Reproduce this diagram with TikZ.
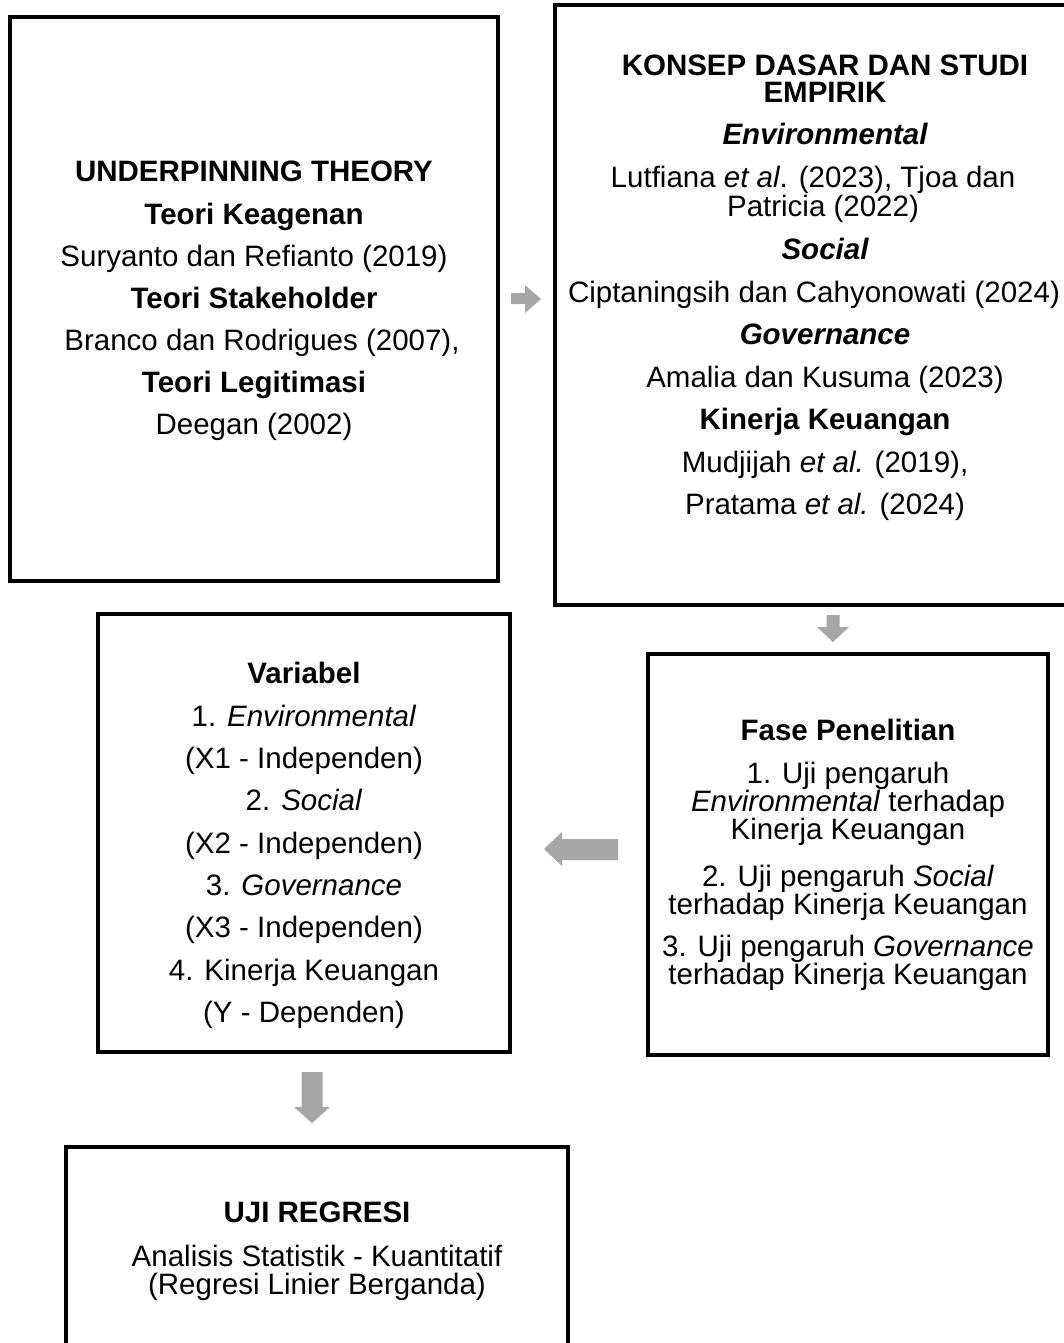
\documentclass[tikz,border=0pt]{standalone}
\usepackage{fontspec}
\setmainfont{Liberation Sans}
\definecolor{arrgray}{HTML}{A6A6A6}
\begin{document}
\begin{tikzpicture}[x=1pt,y=-1pt,
  box/.style={draw=black,line width=3.5pt,inner sep=0pt,outer sep=0pt},
  t/.style={anchor=base,inner sep=0pt,font=\fontsize{29.5}{34}\selectfont},
  tb/.style={anchor=base,inner sep=0pt,font=\fontsize{29.5}{34}\selectfont\bfseries},
  arr/.style={fill=arrgray,draw=none}]
\useasboundingbox (0,0) rectangle (1064,1343);
\clip (0,0) rectangle (1064,1343);
% boxes
\node[box,minimum width=488pt,minimum height=564pt] (b1) at (254,299) {};
\node[box,minimum width=545pt,minimum height=600pt] (b2) at (827.5,305) {};
\node[box,minimum width=412pt,minimum height=438pt] (b3) at (304,833) {};
\node[box,minimum width=400pt,minimum height=401pt] (b4) at (848,854.5) {};
\node[box,minimum width=502pt,minimum height=213pt] (b5) at (317,1253.5) {};
% box 1
\node[tb] (t11) at (254,182) {UNDERPINNING THEORY};
\node[tb] (t12) at (254,224) {Teori Keagenan};
\node[t]  (t13) at (254,266) {Suryanto dan Refianto (2019)};
\node[tb] (t14) at (254,308) {Teori Stakeholder};
\node[t]  (t15) at (262,350) {Branco dan Rodrigues (2007),};
\node[tb] (t16) at (254,392) {Teori Legitimasi};
\node[t]  (t17) at (254,434) {Deegan (2002)};
% box 2
\node[tb] (t21) at (825,76) {KONSEP DASAR DAN STUDI};
\node[tb] (t22) at (825,103) {EMPIRIK};
\node[tb] (t23) at (825,145) {\itshape Environmental};
\node[t]  (t24) at (813,188) {Lutfiana \textit{et al}. (2023), Tjoa dan};
\node[t]  (t25) at (823,216) {Patricia (2022)};
\node[tb] (t26) at (825,259) {\itshape Social};
\node[t]  (t27) at (814,302) {Ciptaningsih dan Cahyonowati (2024)};
\node[tb] (t28) at (825,344) {\itshape Governance};
\node[t]  (t29) at (825,387) {Amalia dan Kusuma (2023)};
\node[tb] (t2a) at (825,429) {Kinerja Keuangan};
\node[t]  (t2b) at (825,472) {Mudjijah \textit{et al.} (2019),};
\node[t]  (t2c) at (825,514) {Pratama \textit{et al.} (2024)};
% box 3
\node[tb] (t31) at (304,683) {Variabel};
\node[t]  (t32) at (304,726) {1. \textit{Environmental}};
\node[t]  (t33) at (304,768) {(X1 - Independen)};
\node[t]  (t34) at (304,810) {2. \textit{Social}};
\node[t]  (t35) at (304,853) {(X2 - Independen)};
\node[t]  (t36) at (304,895) {3. \textit{Governance}};
\node[t]  (t37) at (304,937) {(X3 - Independen)};
\node[t]  (t38) at (304,980) {4. Kinerja Keuangan};
\node[t]  (t39) at (304,1022) {(Y - Dependen)};
% box 4
\node[tb] (t41) at (848,740) {Fase Penelitian};
\node[t]  (t42) at (848,783) {1. Uji pengaruh};
\node[t]  (t43) at (848,811) {\textit{Environmental} terhadap};
\node[t]  (t44) at (848,839) {Kinerja Keuangan};
\node[t]  (t45) at (848,886) {2. Uji pengaruh \textit{Social}};
\node[t]  (t46) at (848,914) {terhadap Kinerja Keuangan};
\node[t]  (t47) at (848,956) {3. Uji pengaruh \textit{Governance}};
\node[t]  (t48) at (848,984) {terhadap Kinerja Keuangan};
% box 5
\node[tb] (t51) at (317,1222) {UJI REGRESI};
\node[t]  (t52) at (317,1266) {Analisis Statistik - Kuantitatif};
\node[t]  (t53) at (317,1294) {(Regresi Linier Berganda)};
% block arrows
\fill[arr] (511,293) -- (525,293) -- (525,285) -- (541,299) -- (525,313) -- (525,304) -- (511,304) -- cycle;
\fill[arr] (826.5,615) -- (839.5,615) -- (839.5,627) -- (849,627) -- (833,642) -- (817,627) -- (826.5,627) -- cycle;
\fill[arr] (618,839) -- (562,839) -- (562,832) -- (544,849) -- (562,866) -- (562,860) -- (618,860) -- cycle;
\fill[arr] (301.5,1072) -- (322.5,1072) -- (322.5,1107) -- (330,1107) -- (312,1123) -- (294,1107) -- (301.5,1107) -- cycle;
\end{tikzpicture}
\end{document}
